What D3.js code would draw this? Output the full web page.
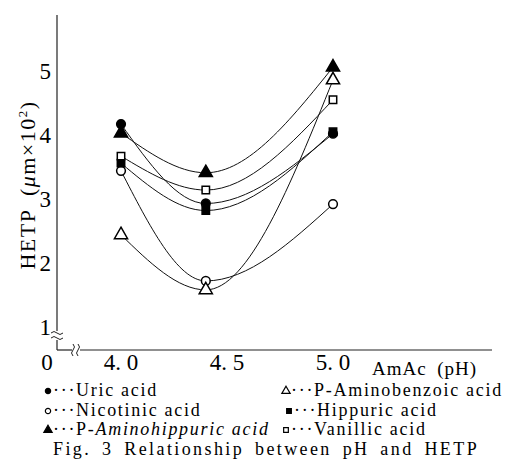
<!DOCTYPE html>
<html>
<head>
<meta charset="utf-8">
<script src="https://cdn.jsdelivr.net/npm/d3@7"></script>
<style>
  body { margin: 0; background: #fff; }
  text { font-family: "Liberation Serif", "Times New Roman", "DejaVu Serif", serif; }
</style>
</head>
<body>
<div id="chart"></div>
<script>
const width = 508;
const height = 465;

// pH values where HETP was measured
const phValues = [4.0, 4.4, 5.0];

// HETP (um x 10^2) for each compound
const uricAcid = [4.17, 2.93, 4.02];
const nicotinicAcid = [3.44, 1.72, 2.92];
const aminohippuricAcid = [4.03, 3.41, 5.06];
const aminobenzoicAcid = [2.44, 1.58, 4.86];
const hippuricAcid = [3.56, 2.82, 4.05];
const vanillicAcid = [3.67, 3.14, 4.55];

const yTickValues = [1, 2, 3, 4, 5];
const xTickValues = [4.0, 4.5, 5.0];
const xTickLabels = ["4. 0", "4. 5", "5. 0"];

const series = [
    { name: "Uric acid", values: uricAcid, symbol: d3.symbolCircle, filled: true },
    { name: "Nicotinic acid", values: nicotinicAcid, symbol: d3.symbolCircle, filled: false },
    { name: "P-Aminohippuric acid", values: aminohippuricAcid, symbol: d3.symbolTriangle, filled: true },
    { name: "P-Aminobenzoic acid", values: aminobenzoicAcid, symbol: d3.symbolTriangle, filled: false },
    { name: "Hippuric acid", values: hippuricAcid, symbol: d3.symbolSquare, filled: true },
    { name: "Vanillic acid", values: vanillicAcid, symbol: d3.symbolSquare, filled: false }
];

const x = d3.scaleLinear().domain([4.0, 5.0]).range([121, 333]);
const y = d3.scaleLinear().domain([1, 5]).range([327, 71]);

const axisX = 57;
const axisY = 350;

const svg = d3.select("#chart").append("svg")
    .attr("width", width)
    .attr("height", height);

// y axis with break
svg.append("line")
    .attr("x1", axisX).attr("x2", axisX)
    .attr("y1", 15).attr("y2", 331)
    .attr("stroke", "#222").attr("stroke-width", 1.2);
svg.append("line")
    .attr("x1", axisX).attr("x2", axisX)
    .attr("y1", 340).attr("y2", axisY)
    .attr("stroke", "#222").attr("stroke-width", 1.2);
svg.append("path")
    .attr("d", "M51,333 q3,-3 6,0 q3,3 6,0 M51,338 q3,-3 6,0 q3,3 6,0")
    .attr("fill", "none").attr("stroke", "#222").attr("stroke-width", 1);

// x axis with break
svg.append("line")
    .attr("x1", axisX).attr("x2", 72)
    .attr("y1", axisY).attr("y2", axisY)
    .attr("stroke", "#222").attr("stroke-width", 1.2);
svg.append("line")
    .attr("x1", 80).attr("x2", 492)
    .attr("y1", axisY).attr("y2", axisY)
    .attr("stroke", "#222").attr("stroke-width", 1.2);
svg.append("path")
    .attr("d", "M73,344 q3,3 0,6 q-3,3 0,6 M78,344 q3,3 0,6 q-3,3 0,6")
    .attr("fill", "none").attr("stroke", "#222").attr("stroke-width", 1);

// y tick labels
svg.selectAll(".ytick")
    .data(yTickValues)
    .enter().append("text")
    .attr("class", "ytick")
    .attr("x", 51)
    .attr("y", d => y(d) + 8)
    .attr("text-anchor", "end")
    .attr("font-size", 23)
    .text(d => d);

svg.append("text")
    .attr("x", 47).attr("y", 370)
    .attr("text-anchor", "middle")
    .attr("font-size", 23)
    .text("0");

// x tick labels
svg.selectAll(".xtick")
    .data(xTickValues)
    .enter().append("text")
    .attr("class", "xtick")
    .attr("x", d => x(d))
    .attr("y", 370)
    .attr("text-anchor", "middle")
    .attr("font-size", 23)
    .text((d, i) => xTickLabels[i]);

svg.append("text")
    .attr("x", 372).attr("y", 375)
    .attr("font-size", 19)
    .attr("letter-spacing", 1)
    .text("AmAc\u2002(pH)");

// y axis title
svg.append("text")
    .attr("transform", "translate(35,185) rotate(-90)")
    .attr("text-anchor", "middle")
    .attr("font-size", 22)
    .attr("letter-spacing", 1.5)
    .html('HETP\u2002(<tspan font-style="italic">\u03bc</tspan>m\u00d710<tspan dy="-8" font-size="13">2</tspan><tspan dy="8">)</tspan>');

// curves
const line = d3.line()
    .x((d, i) => x(phValues[i]))
    .y(d => y(d))
    .curve(d3.curveMonotoneX);

svg.selectAll(".curve")
    .data(series)
    .enter().append("path")
    .attr("class", "curve")
    .attr("d", d => line(d.values))
    .attr("fill", "none")
    .attr("stroke", "#111")
    .attr("stroke-width", 1);

// markers
series.forEach(s => {
    const size = s.symbol === d3.symbolTriangle ? 75 : (s.symbol === d3.symbolSquare ? 55 : 60);
    svg.selectAll(null)
        .data(s.values)
        .enter().append("path")
        .attr("transform", (d, i) => `translate(${x(phValues[i])},${y(d)})`)
        .attr("d", d3.symbol().type(s.symbol).size(size))
        .attr("fill", s.filled ? "#000" : "#fff")
        .attr("stroke", "#000")
        .attr("stroke-width", 1.5);
});

// legend
const legendRows = [
    { s: series[0], x: 48, y: 396 },
    { s: series[1], x: 48, y: 416 },
    { s: series[2], x: 48, y: 435 },
    { s: series[3], x: 286, y: 396 },
    { s: series[4], x: 289, y: 416 },
    { s: series[5], x: 286, y: 435 }
];

legendRows.forEach(r => {
    svg.append("path")
        .attr("transform", `translate(${r.x},${r.y - 5})`)
        .attr("d", d3.symbol().type(r.s.symbol).size(r.s.symbol === d3.symbolTriangle ? 30 : 22))
        .attr("fill", r.s.filled ? "#000" : "#fff")
        .attr("stroke", "#000")
        .attr("stroke-width", 1.2);
    const t = svg.append("text")
        .attr("x", r.x + 5).attr("y", r.y)
        .attr("font-size", 18)
        .attr("letter-spacing", 1.7);
    if (r.s.name === "P-Aminohippuric acid") {
        t.append("tspan").text("\u00b7\u00b7\u00b7P-");
        t.append("tspan").attr("font-style", "italic").text("Aminohippuric acid");
    } else {
        t.text("\u00b7\u00b7\u00b7" + r.s.name);
    }
});

svg.append("text")
    .attr("x", 53).attr("y", 455)
    .attr("font-size", 18)
    .attr("letter-spacing", 2.4)
    .attr("word-spacing", 4)
    .text("Fig. 3 Relationship between pH and HETP");
</script>
</body>
</html>
